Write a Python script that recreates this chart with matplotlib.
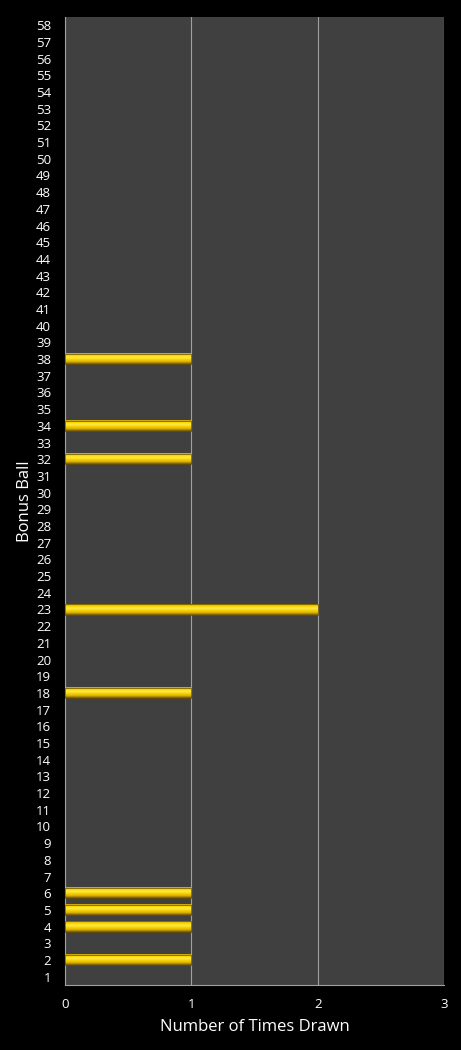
import numpy as np
import matplotlib
matplotlib.use("Agg")
import matplotlib.pyplot as plt
from matplotlib.colors import LinearSegmentedColormap

plt.rcParams['font.family'] = ['Open Sans', 'DejaVu Sans']

balls = list(range(1, 59))
drawn = {2: 1, 4: 1, 5: 1, 6: 1, 18: 1, 23: 2, 32: 1, 34: 1, 38: 1}
counts = [drawn.get(b, 0) for b in balls]

fig = plt.figure(figsize=(4.61, 10.5), dpi=100, facecolor="black")
ax = fig.add_axes([0.141, 0.0619, 0.822, 0.922])
ax.set_facecolor("#404040")

# gold gradient across bar thickness (bottom -> top)
gold = LinearSegmentedColormap.from_list(
    "gold", ["#6e5200", "#d9b000", "#f5d000", "#ffe84a", "#f8d800", "#c9a000"])
grad = np.linspace(0, 1, 64).reshape(-1, 1)
h = 0.62
for b, c in zip(balls, counts):
    if c > 0:
        ax.imshow(grad, cmap=gold, aspect="auto", extent=[0, c, b - h / 2, b + h / 2],
                  origin="lower", zorder=3, interpolation="bilinear")
        ax.barh(b, c, height=h, color="none", edgecolor="#6a5000", linewidth=0.5, zorder=4)

ax.set_xlim(0, 3)
ax.set_ylim(0.5, 58.5)
ax.set_xticks([0, 1, 2, 3])
ax.set_yticks(balls)
ax.set_yticklabels([str(b) for b in balls])
ax.xaxis.grid(True, color="#a0a0a0", linewidth=0.8)
ax.set_axisbelow(True)
ax.tick_params(colors="white", labelsize=9.5, length=0)
ax.tick_params(axis="y", pad=10)
ax.tick_params(axis="x", pad=9)
for s in ["top", "right"]:
    ax.spines[s].set_visible(False)
ax.spines["left"].set_color("#a0a0a0")
ax.spines["bottom"].set_color("#a0a0a0")

ax.set_xlabel("Number of Times Drawn", color="white", fontsize=12, labelpad=6)
ax.set_ylabel("Bonus Ball", color="white", fontsize=12, labelpad=2)

fig.savefig("out.png", dpi=100, facecolor="black")
